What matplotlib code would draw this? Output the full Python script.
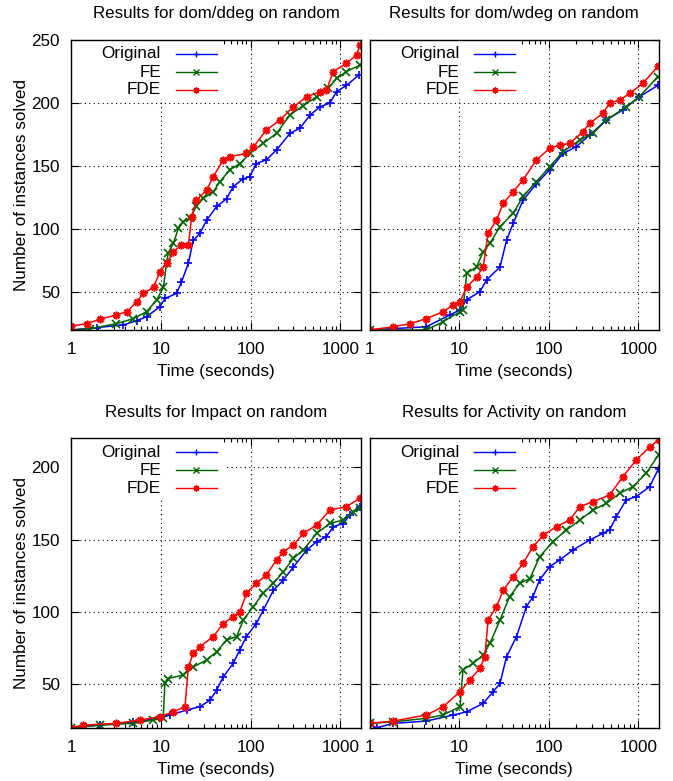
import matplotlib
matplotlib.use("Agg")
import matplotlib.pyplot as plt
from matplotlib.patches import Rectangle

plt.rcParams['font.family'] = ['Liberation Sans', 'DejaVu Sans']
plt.rcParams['font.size'] = 12

# ---------------- data (time in seconds, cumulative instances solved) -------------
titles = ["Results for dom/ddeg on random", "Results for dom/wdeg on random",
          "Results for Impact on random", "Results for Activity on random"]
series_names = ["Original", "FE", "FDE"]

# dom/ddeg
ddeg_orig_t = [1, 1.93, 3.8, 5.4, 6.95, 9.8, 11.1, 15, 17, 20.3, 23, 27.3, 32.4, 41.9, 54, 64, 83, 98,
               116, 150, 195, 275, 355, 460, 595, 765, 908, 1170, 1600]
ddeg_orig_n = [20, 21.9, 24, 27.4, 30.6, 38.5, 45, 49, 58, 73, 91, 96.7, 107, 118, 124, 133.7, 140, 141.6,
               152, 155, 162.8, 176, 180, 190.5, 197, 200, 209, 214, 222]
ddeg_fe_t = [1, 1.63, 3.2, 4.94, 6.95, 9.0, 10.7, 11.6, 12.1, 13.8, 15.7, 17.8, 21, 25, 29.7, 38.5, 45.5,
             58.7, 76, 98, 138, 195, 275, 387, 545, 735, 908, 1170, 1650]
ddeg_fe_n = [20, 21, 25, 29, 34.5, 43.8, 54, 73, 81, 88.7, 100.6, 106, 108.6, 118, 124.4, 129.7, 137.6,
             147, 152, 160, 168, 176, 190.5, 198, 205, 211.7, 219.6, 225, 230]
ddeg_fde_t = [1, 1.49, 2.1, 3.2, 4.2, 5.4, 6.4, 8.3, 9.8, 11.6, 13.8, 17, 20.3, 22.1, 25, 32.4, 38.5,
              49.6, 58.7, 90, 107, 150, 212, 300, 423, 595, 700, 835, 1170, 1517, 1650]
ddeg_fde_n = [23, 25, 28.5, 32, 34.5, 42.5, 49, 54, 66, 73, 82, 87.4, 87.4, 110, 123, 131, 141.6,
              155, 157.5, 160, 165, 178.6, 186.5, 197, 205, 209, 210, 225, 231.5, 238, 246]

# dom/wdeg
wdeg_orig_t = [1, 4.3, 7.9, 10.2, 12.1, 17, 20.2, 28.5, 33.7, 40, 51.6, 72.8, 102, 144, 203, 286, 438,
               672, 1029, 1650]
wdeg_orig_n = [20, 22.6, 32, 36, 44, 50.4, 59.7, 70, 91, 104.6, 123, 136, 147, 160, 165.4, 174.7, 186.5,
               194.5, 205, 214]
wdeg_fe_t = [1, 4.3, 6.6, 10.2, 11.0, 12.1, 15.6, 18.5, 22, 28.5, 40, 51.6, 72.8, 102, 144, 222, 312,
             438, 730, 1029, 1650]
wdeg_fe_n = [20, 20, 26.6, 34.5, 36, 65, 70, 82, 88.7, 102, 112.5, 126, 137.6, 149.5, 161.4, 170.7, 176,
             186.5, 197, 205, 221]
wdeg_fde_t = [1, 1.84, 2.8, 4.3, 6.6, 8.6, 10.2, 12.1, 15.6, 18.5, 21, 26, 31, 40, 51.6, 72.8, 102, 132,
              171, 241, 286, 402, 478, 620, 804, 1120, 1650]
wdeg_fde_n = [20, 22.6, 25, 29, 34.5, 40, 42.5, 54, 62, 70, 96.7, 107, 120.5, 129.7, 139, 155, 164, 166.7,
              168, 177.3, 184, 191.8, 200, 202.4, 207.7, 215.6, 229]

# Impact
imp_orig_t = [1, 2.1, 4.94, 9.8, 12.7, 19.5, 27.3, 35.3, 41.9, 49.6, 64, 76, 90, 116, 138, 180, 232, 300,
              423, 545, 700, 835, 1075, 1274, 1650]
imp_orig_n = [20, 21.8, 24, 26.5, 28.8, 32.2, 34.5, 39, 46, 55, 64.5, 73.7, 83, 92, 101, 115, 122, 131,
              142.8, 148.6, 152, 159, 161, 167, 172.8]
imp_fe_t = [1, 2.1, 4.94, 8.25, 10.65, 11.1, 12.1, 17.8, 23, 32.4, 41.9, 54, 70, 83, 107, 138, 180, 232,
            300, 387, 545, 765, 1075, 1390, 1650]
imp_fe_n = [20, 21.8, 23, 25.3, 26.5, 50.6, 54, 56.4, 62, 66.8, 72.5, 80.6, 83, 94.4, 103.6, 112.8, 119.8,
            127.8, 137, 142.8, 154.3, 161.2, 163.5, 169, 171.6]
imp_fde_t = [1, 1.37, 3.2, 5.87, 9.8, 13.8, 18.6, 20.3, 23, 27.3, 38.5, 49.6, 64, 76, 90, 116, 150, 195,
             232, 300, 387, 545, 765, 1170, 1650]
imp_fde_n = [20, 21.8, 23, 25.3, 27.6, 31, 34.5, 62, 71.4, 76, 83, 92, 96.7, 100, 112.8, 119.8, 125.5,
             136, 141.6, 146.3, 154.3, 160, 170.4, 172.8, 178.5]

# Activity
act_orig_t = [1, 1.2, 1.84, 4.3, 8.6, 12.1, 18.5, 23.9, 28.5, 33.7, 43.6, 56.2, 66.4, 78.8, 102, 132, 186,
              286, 402, 478, 567, 730, 948, 1336, 1680]
act_orig_n = [21.8, 20, 23, 24.6, 28.8, 31, 36.8, 44.9, 50.6, 69, 83, 103.6, 110.5, 122, 131.3, 135.9,
              142.8, 149.7, 154.3, 156.6, 165.8, 177.4, 179.7, 186.6, 199]
act_fe_t = [1, 1.84, 4.3, 6.6, 10.2, 11, 14.3, 18.5, 22, 28.5, 36.5, 47.3, 61.5, 78.8, 111, 157, 222, 312,
            438, 620, 870, 1220, 1680]
act_fe_n = [23, 24.1, 26.5, 28.8, 34.5, 59.9, 64.5, 70.2, 78.3, 94.4, 110.5, 119.8, 123, 138, 148.6,
            156.6, 163.5, 170.4, 175, 182, 186.6, 195.8, 208.5]
act_fde_t = [1, 1.84, 4.3, 6.6, 10.2, 13.1, 17, 19.3, 21, 26, 31, 40, 51.6, 66.4, 86.6, 122, 171, 222, 312,
             478, 672, 948, 1336, 1680]
act_fde_n = [23, 24.6, 28.8, 34.5, 44.9, 53, 61, 69, 94.4, 103.6, 115, 124.4, 133.6, 145, 153, 159, 163.5,
             172.8, 176.2, 180.8, 193.5, 205, 214, 218.8]

panel_data = [
    [(ddeg_orig_t, ddeg_orig_n), (ddeg_fe_t, ddeg_fe_n), (ddeg_fde_t, ddeg_fde_n)],
    [(wdeg_orig_t, wdeg_orig_n), (wdeg_fe_t, wdeg_fe_n), (wdeg_fde_t, wdeg_fde_n)],
    [(imp_orig_t, imp_orig_n), (imp_fe_t, imp_fe_n), (imp_fde_t, imp_fde_n)],
    [(act_orig_t, act_orig_n), (act_fe_t, act_fe_n), (act_fde_t, act_fde_n)],
]
y_ticks_top = [50, 100, 150, 200, 250]
y_ticks_bottom = [50, 100, 150, 200]
x_ticks = [1, 10, 100, 1000]
x_tick_labels = ["1", "10", "100", "1000"]

# ---------------- style -------------
colors = ["#0000ff", "#006400", "#ff0000"]
markers = ["+", "x", (8, 2, 0)]
W, H = 673, 781
fig = plt.figure(figsize=(W / 100, H / 100), dpi=100)

def frac_box(x0, x1, ytop, ybot):
    return [x0 / W, 1 - ybot / H, (x1 - x0) / W, (ybot - ytop) / H]

boxes = [frac_box(71, 361, 40, 330), frac_box(369.7, 659, 40, 330),
         frac_box(71, 361, 438.3, 727.7), frac_box(369.7, 659, 438.3, 727.7)]
ylims = [(20, 250), (20, 250), (20, 220), (20, 220)]

for i, box in enumerate(boxes):
    ax = fig.add_axes(box)
    ax.set_xscale("log")
    ax.set_xlim(1, 1700)
    ax.set_ylim(*ylims[i])
    ax.set_xticks(x_ticks)
    ax.set_xticklabels(x_tick_labels)
    ax.set_yticks(y_ticks_top if i < 2 else y_ticks_bottom)
    ax.tick_params(which="both", direction="in", top=True, right=True, width=0.8, color="black")
    ax.tick_params(which="major", length=6, labelsize=12.3)
    ax.tick_params(axis="x", which="major", pad=9)
    ax.tick_params(axis="y", which="major", pad=8)
    ax.tick_params(which="minor", length=3)
    ax.tick_params(axis="y", which="minor", left=False, right=False)
    if i % 2 == 1:
        ax.set_yticklabels([])
    else:
        ax.set_ylabel("Number of instances solved", fontsize=12.3, labelpad=1.5)
    ax.set_xlabel("Time (seconds)", fontsize=12.3, labelpad=5)
    ax.set_title(titles[i], fontsize=12.2, pad=15.5)
    for s in ax.spines.values():
        s.set_linewidth(1.0)
    ax.set_axisbelow(True)
    ax.grid(True, which="major", color="black", linestyle=(0, (1, 3)), linewidth=0.8)

    # legend background box
    ax.add_patch(Rectangle((0, 0.795), 0.528, 0.205, transform=ax.transAxes,
                           facecolor="white", edgecolor="none", zorder=1.5))

    for k, (t, n) in enumerate(panel_data[i]):
        ax.plot(t, n, color=colors[k], marker=markers[k], markersize=5.5,
                markeredgewidth=1.2, linewidth=1.1, zorder=2 + k * 0.1, clip_on=True)

    # legend
    ly = [0.952, 0.889, 0.828]
    for k, name in enumerate(series_names):
        ax.text(0.31, ly[k], name, transform=ax.transAxes, ha="right", va="center",
                fontsize=12.3, zorder=6)
        ax.plot([0.361, 0.503], [ly[k], ly[k]], transform=ax.transAxes, color=colors[k],
                linewidth=1.0, zorder=6, clip_on=False)
        ax.plot([0.432], [ly[k]], transform=ax.transAxes, color=colors[k], marker=markers[k],
                markersize=4.5, markeredgewidth=1.0, zorder=6, clip_on=False)

fig.savefig("out.png", dpi=100)
